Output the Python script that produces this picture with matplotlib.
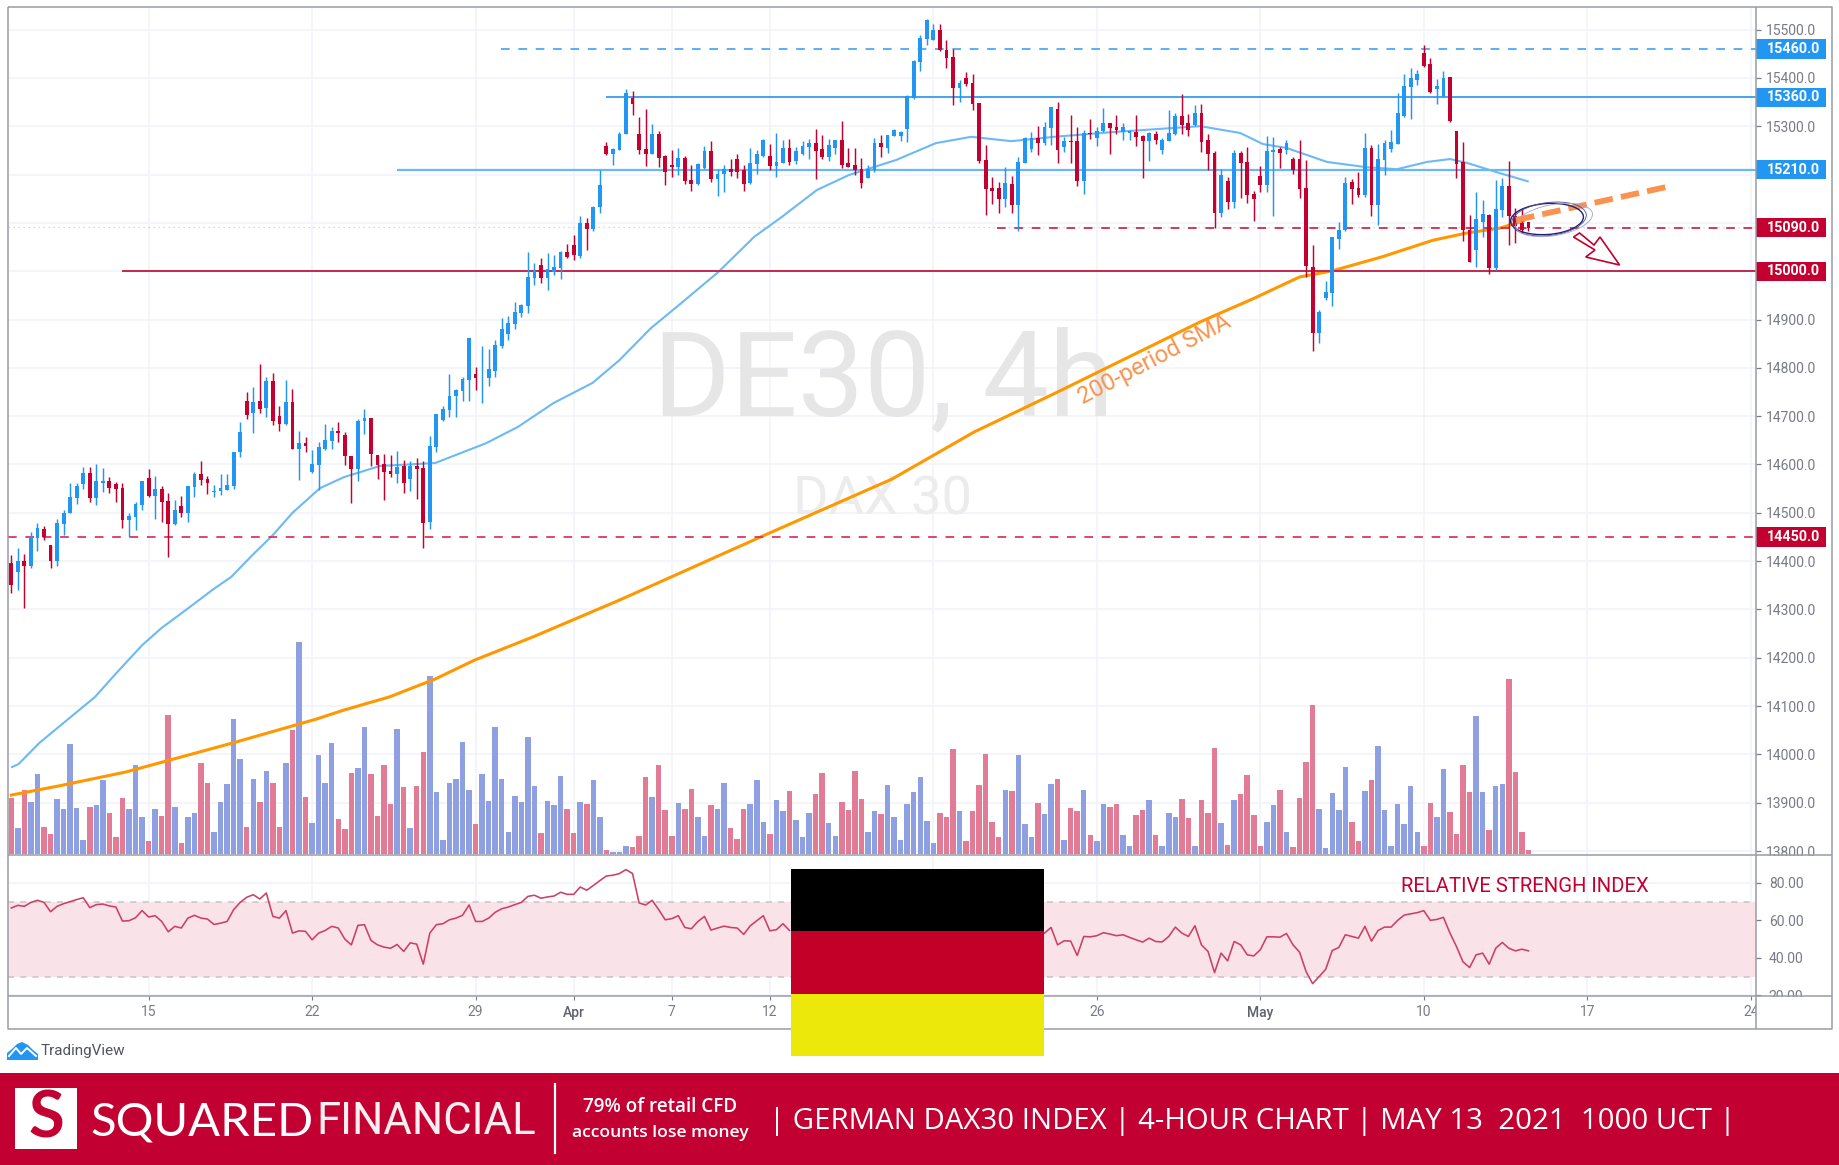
import numpy as np
import matplotlib
matplotlib.use("Agg")
import matplotlib.pyplot as plt
from matplotlib.patches import Rectangle, Ellipse, Polygon
from matplotlib.transforms import blended_transform_factory

# ---------- data ----------
candle_dir = ("RBRBBRRBBB" "BBRBBRRRBB" "BRBRRBRBBR" "RBBBBBRBRB" "RRBRBRBBBB" "RRRBBRRRRB"
              "RBRRBBBBBB" "BRBBBBBBBB" "BRBBBRRBRB" "BRBBBRRRBR" "RRBRRBBRBB" "RRRBBBRBBR"
              "BBBRRBBRRR" "RBBRBBBBBB" "BBRRRBRRRR" "RRBRBBBRBB" "RBRRBRBBRR" "BBRRBRBBBR"
              "RBRRRBRBRR" "RRBBRBRRRR" "BBBBBRRBRB" "BBBBBBRRBB" "RRRRBBRBBR" "RRR")
highs = [14412,14428,14414,14461,14478,14473,14434,14488,14505,14562,
14562,14594,14594,14600,14592,14574,14564,14562,14499,14523,
14566,14590,14577,14555,14540,14527,14535,14555,14584,14607,
14577,14557,14581,14581,14626,14687,14749,14760,14808,14780,
14790,14722,14775,14756,14670,14656,14631,14646,14683,14678,
14687,14668,14618,14694,14714,14696,14620,14622,14619,14627,
14609,14607,14613,14607,14659,14705,14721,14787,14757,14781,
14862,14801,14846,14838,14857,14904,14907,14937,14933,15040,
15016,15028,15038,15033,15042,15057,15075,15114,15109,15135,
15209,15267,15254,15288,15376,15372,15318,15336,15305,15290,
15240,15250,15255,15238,15219,15223,15259,15270,15212,15219,
15232,15243,15219,15254,15250,15274,15264,15286,15271,15274,
15257,15269,15274,15294,15281,15274,15271,15311,15254,15254,
15234,15219,15276,15281,15281,15294,15290,15365,15436,15488,
15521,15512,15512,15478,15459,15396,15412,15409,15348,15262,
15195,15185,15215,15197,15237,15278,15288,15301,15308,15340,
15350,15278,15323,15299,15293,15314,15299,15338,15306,15323,
15307,15293,15323,15281,15287,15290,15275,15333,15328,15366,
15326,15344,15346,15284,15249,15212,15195,15250,15249,15256,
15166,15217,15280,15278,15257,15271,15237,15271,15231,15054,
14919,14980,15071,15102,15195,15190,15206,15286,15261,15264,
15271,15293,15369,15409,15420,15416,15469,15442,15397,15415,
15401,15290,15268,15116,15163,15148,15118,15188,15192,15228,
15131,15128,15102]
body_tops = [14397,14400,14400,14449,14468,14466,14434,14478,14500,14532,
14555,14582,14582,14565,14565,14565,14559,14552,14493,14518,
14565,14572,14550,14550,14525,14505,14515,14555,14580,14580,
14570,14544,14552,14557,14626,14668,14732,14730,14732,14772,
14773,14700,14730,14730,14644,14644,14601,14636,14651,14670,
14670,14661,14618,14691,14696,14696,14619,14601,14587,14594,
14597,14597,14597,14592,14638,14705,14714,14742,14755,14777,
14861,14788,14782,14797,14848,14880,14892,14915,14930,14988,
15000,15013,15004,15008,15040,15040,15055,15099,15099,15133,
15178,15259,15252,15283,15368,15359,15283,15252,15283,15283,
15238,15219,15234,15235,15188,15221,15249,15249,15202,15212,
15212,15232,15209,15223,15242,15272,15238,15226,15254,15254,
15249,15258,15266,15266,15252,15261,15271,15271,15223,15219,
15212,15211,15266,15266,15281,15293,15288,15362,15434,15483,
15519,15500,15500,15457,15443,15390,15400,15390,15348,15230,
15173,15173,15183,15180,15225,15276,15276,15276,15299,15339,
15335,15269,15269,15269,15285,15286,15290,15306,15306,15299,
15299,15290,15288,15279,15285,15284,15272,15286,15321,15321,
15307,15328,15328,15272,15245,15200,15186,15245,15245,15225,
15159,15197,15249,15251,15252,15266,15232,15232,15173,15009,
14915,14956,15070,15086,15183,15185,15173,15254,15254,15232,
15266,15268,15327,15383,15400,15409,15451,15428,15383,15400,
15401,15290,15226,15085,15107,15119,15116,15128,15176,15176,
15115,15100,15102]
body_bottoms = [14350,14378,14390,14390,14447,14449,14401,14400,14477,14499,
14531,14560,14530,14531,14562,14552,14550,14486,14486,14491,
14516,14535,14535,14523,14477,14476,14499,14500,14554,14567,
14562,14543,14545,14548,14555,14625,14703,14706,14715,14716,
14689,14684,14684,14632,14632,14639,14585,14599,14633,14649,
14665,14618,14591,14590,14689,14622,14599,14585,14580,14580,
14561,14570,14590,14478,14482,14637,14692,14712,14742,14753,
14775,14779,14780,14779,14794,14845,14870,14890,14913,14928,
14986,14986,14986,14999,15006,15030,15033,15031,15088,15088,
15132,15243,15242,15250,15283,15345,15250,15242,15243,15235,
15205,15216,15216,15186,15180,15180,15214,15190,15190,15201,
15205,15205,15181,15183,15221,15238,15218,15218,15224,15226,
15227,15242,15257,15249,15236,15236,15254,15219,15216,15209,
15183,15193,15209,15257,15254,15279,15279,15294,15359,15432,
15481,15479,15457,15441,15378,15378,15387,15345,15228,15171,
15165,15150,15150,15137,15137,15223,15252,15266,15266,15297,
15250,15256,15267,15186,15186,15283,15275,15290,15297,15292,
15288,15285,15278,15270,15270,15272,15250,15270,15284,15302,
15292,15303,15268,15242,15121,15121,15143,15143,15223,15157,
15149,15178,15178,15247,15245,15251,15209,15171,15011,14873,
14873,14944,14955,15066,15086,15171,15157,15157,15137,15137,
15231,15252,15264,15322,15382,15395,15424,15371,15376,15360,
15311,15222,15086,15019,15044,15102,15006,15006,15126,15114,
15093,15086,15090]
lows = [14335,14340,14303,14385,14422,14444,14385,14390,14454,14499,
14518,14550,14523,14516,14543,14540,14523,14469,14449,14464,
14505,14533,14488,14481,14409,14474,14491,14481,14533,14557,
14538,14533,14536,14548,14550,14615,14694,14665,14706,14699,
14682,14669,14682,14632,14568,14625,14583,14547,14630,14632,
14647,14599,14521,14566,14663,14597,14570,14527,14574,14562,
14542,14545,14529,14427,14467,14626,14690,14699,14699,14732,
14732,14755,14728,14762,14781,14841,14857,14880,14906,14913,
14971,14976,14962,14992,14984,15028,15023,15028,15044,15083,
15120,15240,15219,15250,15283,15324,15243,15218,15242,15216,
15179,15194,15198,15181,15166,15178,15212,15185,15156,15163,
15197,15193,15165,15181,15202,15236,15210,15195,15223,15219,
15221,15240,15232,15190,15232,15228,15242,15214,15216,15198,
15172,15192,15205,15236,15245,15279,15270,15267,15357,15414,
15468,15479,15455,15421,15343,15350,15383,15334,15223,15117,
15138,15121,15132,15121,15083,15223,15247,15240,15261,15261,
15223,15247,15223,15176,15159,15274,15259,15287,15243,15284,
15272,15272,15259,15193,15228,15264,15242,15269,15281,15284,
15279,15300,15247,15209,15090,15112,15128,15130,15152,15141,
15104,15164,15164,15115,15214,15242,15201,15152,14988,14834,
14852,14941,14928,15045,15083,15140,15153,15154,15115,15095,
15199,15247,15264,15320,15314,15385,15423,15368,15346,15360,
15309,15192,15063,15019,15009,15071,14994,15002,15112,15054,
15059,15080,15083]
volumes = [167,77,192,157,239,82,60,164,135,329,
139,42,142,146,222,122,50,167,135,267,
110,39,135,114,417,142,32,110,124,272,
214,67,157,210,404,285,82,225,157,250,
214,82,272,372,635,172,92,297,214,332,
104,75,242,257,382,239,114,268,150,375,
200,77,204,307,535,185,42,214,224,335,
192,89,239,160,382,225,67,175,157,350,
204,64,160,146,235,135,64,157,150,222,
110,11,7,7,24,21,53,232,171,268,
132,53,154,135,196,110,53,146,135,214,
78,46,135,150,222,96,60,161,128,189,
103,50,124,179,242,92,54,157,132,250,164,
65,128,121,207,110,42,150,185,232,100,
32,124,110,314,128,39,128,207,300,96,
50,193,189,297,89,50,154,121,211,225,
42,139,128,193,57,39,150,142,150,57,
24,117,132,161,57,24,124,110,164,107,
24,161,124,318,92,28,161,179,236,117,
24,96,146,193,67,21,167,275,446,135,
17,182,132,261,96,39,189,221,325,132,
24,150,89,204,65,24,154,110,254,125,
60,268,185,414,185,71,204,211,524,247,67,11]
rsi_first = [66.6,68.0,67.5,69.6,70.7,69.6,64.6,67.5,68.9,70.0,
71.1,72.1,66.8,68.4,68.7,67.7,67.1,59.6,59.8,61.4,
65.2,61.8,62.5,59.4,53.9,56.8,55.9,61.2,62.7,61.2,
60.7,57.8,58.5,59.4,65.7,69.6,72.3,73.7,71.4,74.6,
62.1,61.2,65.2,53.2,54.4,54.1,49.6,53.2,54.6,56.8,
55.9,50.0,46.9,57.3,57.7,49.3,46.9,45.7,45.1,47.1,
43.4,48.0,47.3,36.6,53.2,57.7,58.2,60.3,61.2,62.7,
68.2,59.4,59.4,61.2,64.3,66.2,67.1,68.4,69.6,72.8,
73.4,71.8,72.5,73.0,75.0,73.9,73.9,77.8,76.1,78.6,
81.2,83.7,84.1,85.0,87.1,85.0,69.3,68.2,70.7,65.7,
60.3,60.9,62.5,56.2,55.5,59.4,62.1,54.8,55.9,56.9,
56.2,55.9,52.5,57.1,59.8,62.5,54.4,55.0,58.2,54.6]
rsi_second = [53.2,56.2,46.9,49.1,48.9,41.2,51.4,51.2,51.8,53.4,
52.7,51.8,52.3,50.9,49.6,48.4,50.5,48.7,48.5,51.4,
56.4,53.2,51.4,57.1,46.9,43.4,32.1,42.5,38.4,48.7,
46.9,41.6,41.0,44.3,51.2,51.2,51.0,53.0,46.9,43.0,
32.6,26.2,30.0,33.9,43.9,45.5,52.3,51.4,50.5,56.8,
48.9,54.6,56.4,56.4,60.0,62.8,63.5,64.1,65.2,60.0,
60.5,61.6,53.2,46.0,37.8,34.8,41.6,42.5,36.6,45.1,
48.2,45.1,43.7,44.6,43.7]
rsi_second_start = 158   # the flag hides the bars between the two RSI runs
sma200_bar = [0,7.3,17.6,33.9,46.6,50.9,57.8,64.8,70.8,79.9,93.1,114.9,134.7,147.2,159.7,181.8,189.9,197,202.1,209.7,217.4,222.6,227.6,231.2]
sma200_val = [13916,13935,13964,14024,14073,14092,14119,14156,14195,14244,14320,14452,14570,14667,14748,14895,14943,14988,15001,15030,15064,15079,15089,15104]
sma50_bar = [0.1,1.1,4.3,8.5,12.8,16.1,20,23,26.7,30.9,33.6,36.9,40,43,47.2,50.9,56.4,64.8,72.6,77.5,82.9,88.9,93,97.8,102.1,108.1,113.6,117.8,123.2,128.1,135.3,141.4,146.8,152.9,159.5,168.6,181.8,187.9,191.4,195,201.2,207.3,211.9,216.5,220,222.6,227.6,231.9]
sma50_val = [13974,13980,14024,14071,14119,14169,14226,14262,14299,14342,14367,14413,14454,14500,14551,14574,14597,14603,14644,14678,14727,14769,14816,14882,14930,14998,15071,15112,15168,15199,15230,15265,15278,15269,15278,15288,15300,15286,15263,15255,15226,15215,15211,15226,15232,15224,15203,15186]
price_ticks = list(range(13800, 15501, 100))
hidden_price_labels = [15100, 15200]   # covered by the 15090 and 15210 boxes in the reference
rsi_ticks = [20, 40, 60, 80]
date_bars = [21, 46, 71, 86, 101, 116, 141, 166, 191, 216, 241, 266]
date_labels = ["15", "22", "29", "Apr", "7", "12", "19", "26", "May", "10", "17", "24"]
level_prices = [15460, 15360, 15210, 15090, 15000, 14450]
level_start_bars = [74.9, 91, 59, 150.8, 16.9, -0.55]
level_labels = ["15460.0", "15360.0", "15210.0", "15090.0", "15000.0", "14450.0"]

# ---------- styling ----------
BLUE, RED = "#2196f3", "#c3002f"
VOL_BLUE, VOL_RED = "#8fa0e2", "#e27c96"
GRID = "#f0f3fa"
BORDER = "#9a9ca6"
TXT = "#787b86"
W, H = 1840, 1165
plt.rcParams["font.family"] = ["Roboto", "DejaVu Sans"]
fig = plt.figure(figsize=(W / 100, H / 100), dpi=100, facecolor="white")


def box(x0, y0, x1, y1):
    return [x0 / W, 1 - y1 / H, (x1 - x0) / W, (y1 - y0) / H]


LEFT, AXIS_X, TOP, MAIN_B, RSI_B, TIME_B, RIGHT = 7.7, 1756, 7, 855, 996, 1029, 1832
BAR_XLIM = (-0.55, 266.8)
PRICE_LIM = (13792, 15546.6)

n = len(highs)
bars = np.arange(n)
rising = np.array([c == "B" for c in candle_dir])

ax_grid = fig.add_axes(box(LEFT, TOP, AXIS_X, MAIN_B), zorder=0)
ax_vol = fig.add_axes(box(LEFT, TOP, AXIS_X, MAIN_B), zorder=1)
ax_price = fig.add_axes(box(LEFT, TOP, AXIS_X, MAIN_B), zorder=2)
ax_rsi = fig.add_axes(box(LEFT, MAIN_B, AXIS_X, RSI_B), zorder=2)
ax_time = fig.add_axes(box(LEFT, RSI_B, AXIS_X, TIME_B), zorder=2)
over = fig.add_axes([0, 0, 1, 1], zorder=5)
over.set_xlim(0, W)
over.set_ylim(H, 0)
over.axis("off")
over.patch.set_alpha(0)

for a in (ax_grid, ax_vol, ax_price, ax_rsi, ax_time):
    a.set_xlim(*BAR_XLIM)
    for s in a.spines.values():
        s.set_visible(False)

# grid + watermark
ax_grid.set_ylim(*PRICE_LIM)
ax_grid.set_xticks(date_bars)
ax_grid.set_yticks(price_ticks)
ax_grid.grid(True, color=GRID, lw=1.1)
ax_grid.tick_params(left=False, bottom=False, labelleft=False, labelbottom=False)
ax_grid.set_axisbelow(True)
tr = ax_grid.transAxes
ax_grid.text((883 - LEFT) / (AXIS_X - LEFT), 1 - (383 - TOP) / (MAIN_B - TOP), "DE30, 4h", transform=tr,
             fontsize=85, color="#e6e6e6", ha="center", va="center")
ax_grid.text((883 - LEFT) / (AXIS_X - LEFT), 1 - (500 - TOP) / (MAIN_B - TOP), "DAX 30", transform=tr,
             fontsize=39, color="#ececec", ha="center", va="center")

# volume
ax_vol.set_ylim(-3, 2541)
ax_vol.patch.set_alpha(0)
ax_vol.bar(bars, volumes, width=0.84, color=[VOL_BLUE if r else VOL_RED for r in rising], lw=0)
ax_vol.set_xticks([])
ax_vol.set_yticks([])

# price
ax_price.patch.set_alpha(0)
ax_price.set_ylim(*PRICE_LIM)
ax_price.set_xticks([])
ax_price.yaxis.tick_right()
ax_price.set_yticks(price_ticks)
ax_price.set_yticklabels(["" if p in hidden_price_labels else f"{p:.1f}" for p in price_ticks])
ax_price.tick_params(axis="y", length=3.6, width=0.9, color=TXT, labelcolor=TXT, labelsize=10, pad=3.8)

ax_price.axhline(15092, color="#c9cbd2", lw=0.9, ls=(0, (1, 3)), zorder=1)
ax_price.plot(sma50_bar, sma50_val, color="#6cb9f6", lw=1.5, zorder=2.5)
ax_price.plot(sma200_bar, sma200_val, color="#ff9800", lw=2.2, zorder=2.6)

# level lines
lx1 = BAR_XLIM[1]
styles = [("#45a6f4", 1.25, (0, (5, 5))), ("#2f97ee", 1.25, "-"), ("#68b8f8", 1.6, "-"),
          ("#d0204c", 1.25, (0, (5, 5))), ("#c3284f", 1.4, "-"), ("#d8305a", 1.25, (0, (5, 5)))]
for p, b0, (c, lw, ls) in zip(level_prices, level_start_bars, styles):
    ax_price.hlines(p, b0, lx1, color=c, lw=lw, linestyles=ls, zorder=3)

# candles
ax_price.vlines(bars[rising], np.array(lows)[rising], np.array(highs)[rising], color=BLUE, lw=1.05, zorder=4)
ax_price.vlines(bars[~rising], np.array(lows)[~rising], np.array(highs)[~rising], color=RED, lw=1.05, zorder=4)
heights = np.maximum(np.array(body_tops) - np.array(body_bottoms), 2)
ax_price.bar(bars, heights, bottom=body_bottoms, width=0.58,
             color=[BLUE if r else RED for r in rising], lw=0, zorder=4.2)

# level boxes in the price scale
bt = blended_transform_factory(ax_price.transAxes, ax_price.transData)
for p, lab in zip(level_prices, level_labels):
    col = BLUE if p > 15100 else RED
    ax_price.add_patch(Rectangle((1.0, p - 20), 70 / (AXIS_X - LEFT), 40, transform=bt, color=col,
                                 clip_on=False, zorder=8, lw=0))
    ax_price.text(1 + 11 / (AXIS_X - LEFT), p, lab, transform=bt, color="white", fontsize=10.3, weight="bold",
                  va="center", ha="left", clip_on=False, zorder=9)

# RSI
ax_rsi.set_ylim(19.6, 94.9)
ax_rsi.set_xticks(date_bars)
ax_rsi.grid(True, color=GRID, lw=1.1)
ax_rsi.set_axisbelow(True)
ax_rsi.axhspan(30, 70, color="#f9e3e8", lw=0, zorder=1)
ax_rsi.axhline(70, color="#c9c3c6", lw=1.1, ls=(0, (4, 4)), zorder=1.5)
ax_rsi.axhline(30, color="#c9c3c6", lw=1.1, ls=(0, (4, 4)), zorder=1.5)
ax_rsi.plot(np.arange(len(rsi_first)), rsi_first, color="#cc3f66", lw=1.15, zorder=3)
ax_rsi.plot(np.arange(len(rsi_second)) + rsi_second_start, rsi_second, color="#cc3f66", lw=1.15, zorder=3)
ax_rsi.yaxis.tick_right()
ax_rsi.set_yticks(rsi_ticks)
ax_rsi.set_yticklabels([f"{v:.2f}" for v in rsi_ticks])
ax_rsi.tick_params(axis="y", length=3.6, width=0.9, color=TXT, labelcolor=TXT, labelsize=10, pad=5.6)
ax_rsi.tick_params(axis="x", bottom=False, labelbottom=False)

# time axis
ax_time.set_ylim(0, 1)
ax_time.set_yticks([])
ax_time.set_xticks(date_bars)
ax_time.set_xticklabels(date_labels)
ax_time.tick_params(axis="x", direction="in", top=True, bottom=False, labeltop=False, labelbottom=False, length=3, color=TXT)
for b, lab in zip(date_bars, date_labels):
    bold = lab in ("Apr", "May")
    ax_time.text(b, 0.5, lab, ha="center", va="center", color="#5f626c" if bold else TXT, fontsize=10,
                 weight="medium" if bold else "normal", clip_on=True)

# --------- overlay in pixel space ---------
# hide label parts that spill over the pane borders
over.add_patch(Rectangle((AXIS_X + 1, MAIN_B + 1), 74, 6, color="white", lw=0, zorder=1))
over.add_patch(Rectangle((AXIS_X + 1, RSI_B + 1), 74, 7, color="white", lw=0, zorder=1))
# borders
bc = dict(color=BORDER, lw=1.1, zorder=2, solid_capstyle="butt")
over.plot([LEFT, RIGHT, RIGHT, LEFT, LEFT], [TOP, TOP, TIME_B, TIME_B, TOP], **bc)
over.plot([LEFT, RIGHT], [MAIN_B, MAIN_B], **bc)
over.plot([LEFT, RIGHT], [RSI_B, RSI_B], **bc)
over.plot([AXIS_X, AXIS_X], [TOP, TIME_B], **bc)

# drawings
over.text(1525, 886, "RELATIVE STRENGH INDEX", color=RED, fontsize=14.6, ha="center", va="center")
over.text(1154, 360, "200-period SMA", color="#f7944f", fontsize=17, ha="center", va="center", rotation=27.7,
          rotation_mode="anchor")
over.plot([1516, 1671], [220, 186], color="#fb9350", lw=4.2, ls=(0, (3.2, 1.4)), zorder=3)
over.add_patch(Ellipse((1547, 219), 73, 31, angle=-4, fill=False, ec="#22226e", lw=1.0, zorder=4))
over.add_patch(Ellipse((1549, 219), 75, 33, angle=-7, fill=False, ec="#4d4d96", lw=0.6, zorder=4))
over.add_patch(Ellipse((1554, 220), 78, 31, angle=-10, fill=False, ec="#9fa3c8", lw=0.6, zorder=4))
over.add_patch(Polygon([(1573.5, 237), (1579.6, 233), (1594, 245), (1600, 237), (1619.6, 265), (1585.7, 257), (1595, 250)],
                       closed=True, fc="white", ec=RED, lw=1.2, zorder=4))

# German flag
over.add_patch(Rectangle((791, 869), 253, 62, color="#000000", lw=0, zorder=6))
over.add_patch(Rectangle((791, 931), 253, 63, color="#c30028", lw=0, zorder=6))
over.add_patch(Rectangle((791, 994), 253, 62, color="#ece80a", lw=0, zorder=6))

# TradingView
over.add_patch(Polygon([(7, 1060), (7, 1053), (12, 1049), (17, 1044), (22, 1042), (28, 1045), (33, 1050), (38, 1054), (38, 1060)],
                       closed=True, color=BLUE, lw=0, zorder=3))
over.plot([9, 16, 21, 27, 36], [1056, 1048, 1054, 1048, 1056], color="white", lw=1.4, zorder=4)
over.text(41, 1051, "TradingView", color="#50535e", fontsize=11, ha="left", va="center")

# banner
over.add_patch(Rectangle((0, 1073), W, 92, color="#c30032", lw=0, zorder=3))
over.add_patch(Rectangle((15.3, 1088), 61.2, 61, color="white", lw=0, zorder=4))
over.text(46, 1119, "S", color="#c30032", fontsize=47, weight="bold", ha="center", va="center", zorder=5, family="Lato")
over.text(90, 1122, "SQUARED", color="white", fontsize=34, ha="left", va="center", zorder=5, family="Lato")
over.text(316, 1122, "FINANCIAL", color="#fbeef1", fontsize=31.5, ha="left", va="center", zorder=5, family="Roboto")
over.plot([555, 555], [1084, 1153], color="white", lw=1.6, zorder=5)
over.text(660, 1107, "79% of retail CFD", color="white", fontsize=13.6, weight="semibold", ha="center", va="center", zorder=5, family="Open Sans")
over.text(660, 1133, "accounts lose money", color="white", fontsize=12.6, weight="semibold", ha="center", va="center", zorder=5, family="Open Sans")
over.text(769, 1122, "| GERMAN DAX30 INDEX | 4-HOUR CHART | MAY 13  2021  1000 UCT |", color="white", fontsize=21.15,
          ha="left", va="center", zorder=5, family="Open Sans")

fig.savefig("out.png", dpi=100, facecolor="white")
